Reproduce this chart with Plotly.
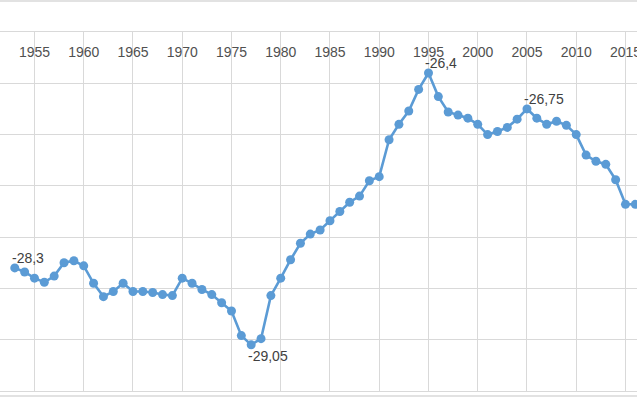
import plotly.graph_objects as go

years = list(range(1953, 2017))
values = [
    -28.30, -28.34, -28.40, -28.44, -28.38, -28.25, -28.23, -28.28, -28.45, -28.58,
    -28.53, -28.45, -28.53, -28.53, -28.54, -28.56, -28.57, -28.40, -28.45, -28.51,
    -28.56, -28.64, -28.72, -28.96, -29.05, -28.99, -28.57, -28.40, -28.22, -28.06,
    -27.97, -27.93, -27.84, -27.75, -27.66, -27.60, -27.45, -27.41, -27.05, -26.90,
    -26.77, -26.56, -26.40, -26.63, -26.78, -26.81, -26.84, -26.90, -27.00, -26.97,
    -26.93, -26.85, -26.75, -26.84, -26.90, -26.87, -26.91, -27.00, -27.20, -27.26,
    -27.29, -27.44, -27.68, -27.68,
]
label_years = [1953, 1977, 1995, 2005]
label_below = [False, True, False, False]

LINE = "#5B9BD5"
GRID = "#D9D9D9"
FONT = "Liberation Sans"

fig = go.Figure()
fig.add_trace(go.Scatter(
    x=years, y=values, mode="lines+markers",
    line=dict(color=LINE, width=2.6),
    marker=dict(color=LINE, size=9),
    hoverinfo="skip", showlegend=False,
))

for yr, below in zip(label_years, label_below):
    v = values[years.index(yr)]
    fig.add_annotation(
        x=yr, y=v, xref="x", yref="y",
        text=str(v).replace(".", ","),
        showarrow=False, xanchor="left", yanchor="middle",
        xshift=-5, yshift=-11 if below else 10,
        font=dict(family=FONT, size=14, color="#404040"),
    )

# chart frame lines above and below the plot area
fig.add_shape(type="line", xref="paper", yref="paper", x0=0, x1=1,
              y0=(391 - 1) / 359, y1=(391 - 1) / 359,
              line=dict(color=GRID, width=1.5))
fig.add_shape(type="line", xref="paper", yref="paper", x0=0, x1=1,
              y0=(391 - 396) / 359, y1=(391 - 396) / 359,
              line=dict(color=GRID, width=1.5))

fig.update_layout(
    width=637, height=400,
    margin=dict(l=0, r=0, t=32, b=9, autoexpand=False),
    paper_bgcolor="white", plot_bgcolor="white",
    font=dict(family=FONT, size=14, color="#595959"),
    xaxis=dict(
        range=[1951.5, 2016.17], side="top",
        tick0=1955, dtick=5, tickmode="linear",
        ticklabelposition="inside", ticklabeloverflow="allow",
        ticks="inside", ticklen=15, tickcolor="rgba(0,0,0,0)",
        showgrid=True, gridcolor=GRID, gridwidth=1.3,
        showline=True, linecolor=GRID, linewidth=1.3, mirror=True,
        zeroline=False,
        tickfont=dict(family=FONT, size=14, color="#505050"),
    ),
    yaxis=dict(
        range=[-29.5, -26.0], tick0=-26.0, dtick=0.5, tickmode="linear",
        showticklabels=False, ticks="",
        showgrid=True, gridcolor=GRID, gridwidth=1.3,
        zeroline=False,
    ),
)

fig.write_html(
    "out.html",
    config={"displayModeBar": False},
    post_script="document.body.style.margin='0';document.body.style.overflow='hidden';",
)
